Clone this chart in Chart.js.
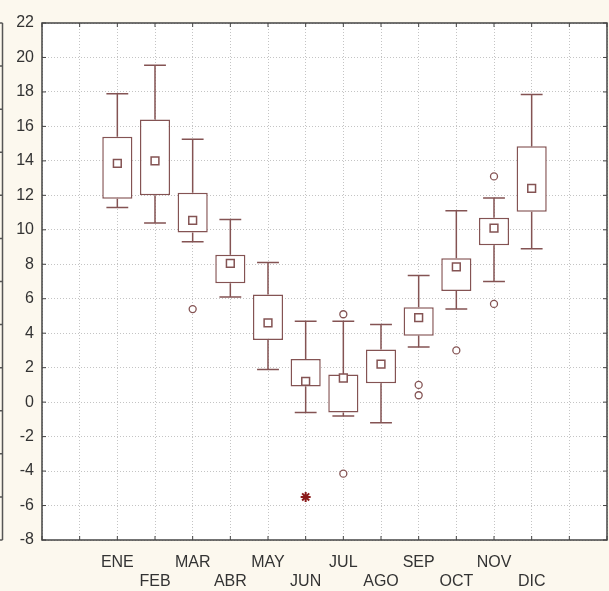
<!DOCTYPE html>
<html>
<head>
<meta charset="utf-8">
<script src="https://cdn.jsdelivr.net/npm/chart.js@4.4.0/dist/chart.umd.min.js"></script>
<style>
  body { margin: 0; background: #fcf8ee; overflow: hidden; }
</style>
</head>
<body>
<canvas id="boxChart" width="609" height="591"></canvas>
<script>
// monthly box plot values
var months = ['ENE', 'FEB', 'MAR', 'ABR', 'MAY', 'JUN', 'JUL', 'AGO', 'SEP', 'OCT', 'NOV', 'DIC'];
var minVals = [11.3, 10.4, 9.3, 6.1, 1.9, -0.6, -0.8, -1.2, 3.2, 5.4, 7.0, 8.9];
var q1Vals = [11.8, 12.0, 9.85, 6.9, 3.6, 0.9, -0.6, 1.1, 3.85, 6.45, 9.1, 11.05];
var medianVals = [13.85, 14.0, 10.55, 8.05, 4.6, 1.2, 1.4, 2.2, 4.9, 7.85, 10.1, 12.4];
var q3Vals = [15.4, 16.4, 12.15, 8.55, 6.25, 2.5, 1.6, 3.05, 5.5, 8.35, 10.7, 14.85];
var maxVals = [17.9, 19.55, 15.25, 10.6, 8.1, 4.7, 4.7, 4.5, 7.35, 11.1, 11.85, 17.85];

// outliers and extremes: month number (1 = ENE) and value
var outlierMonths = [3, 7, 7, 9, 9, 10, 11, 11];
var outlierVals = [5.4, 5.1, -4.15, 1.0, 0.4, 3.0, 13.1, 5.7];
var extremeMonths = [6];
var extremeVals = [-5.5];

var yTicks = { min: -8, max: 22, step: 2 };

var lineCol = '#845353';
var font = { family: "'Liberation Sans', Arial, sans-serif", size: 16 };

var boxes = [];
var medians = [];
for (var i = 0; i < months.length; i++) {
    boxes.push({ x: i + 1, y: [q1Vals[i], q3Vals[i]] });
    medians.push({ x: i + 1, y: medianVals[i] });
}
var outliers = outlierMonths.map(function (m, k) { return { x: m, y: outlierVals[k] }; });
var extremes = extremeMonths.map(function (m, k) { return { x: m, y: extremeVals[k] }; });

// background, whiskers and frame
var boxPlotExtras = {
    id: 'boxPlotExtras',
    beforeDraw: function (chart) {
        var ctx = chart.ctx, a = chart.chartArea;
        ctx.save();
        ctx.fillStyle = '#fcf8ee';
        ctx.fillRect(0, 0, chart.width, chart.height);
        ctx.fillStyle = '#ffffff';
        ctx.fillRect(a.left, a.top, a.right - a.left, a.bottom - a.top);
        // edge of the neighbouring panel
        ctx.strokeStyle = '#555';
        ctx.lineWidth = 1.5;
        ctx.beginPath();
        ctx.moveTo(2.5, a.top);
        ctx.lineTo(2.5, a.bottom);
        for (var t = 0; t <= 12; t++) {
            var ty = a.top + (a.bottom - a.top) * t / 12;
            ctx.moveTo(0, ty);
            ctx.lineTo(2.5, ty);
        }
        ctx.stroke();
        ctx.restore();
    },
    beforeDatasetsDraw: function (chart) {
        var ctx = chart.ctx, xs = chart.scales.x, ys = chart.scales.y;
        var cap = (xs.getPixelForValue(1) - xs.getPixelForValue(0)) * 0.29;
        ctx.save();
        ctx.strokeStyle = lineCol;
        ctx.lineWidth = 1.5;
        ctx.beginPath();
        for (var i = 0; i < months.length; i++) {
            var px = xs.getPixelForValue(i + 1);
            var yMax = ys.getPixelForValue(maxVals[i]);
            var yMin = ys.getPixelForValue(minVals[i]);
            ctx.moveTo(px, ys.getPixelForValue(q3Vals[i]));
            ctx.lineTo(px, yMax);
            ctx.moveTo(px - cap, yMax);
            ctx.lineTo(px + cap, yMax);
            ctx.moveTo(px, ys.getPixelForValue(q1Vals[i]));
            ctx.lineTo(px, yMin);
            ctx.moveTo(px - cap, yMin);
            ctx.lineTo(px + cap, yMin);
        }
        ctx.stroke();
        ctx.restore();
    },
    afterDraw: function (chart) {
        var ctx = chart.ctx, a = chart.chartArea;
        var xs = chart.scales.x, ys = chart.scales.y;
        ctx.save();
        ctx.setLineDash([]);
        ctx.strokeStyle = '#444';
        ctx.lineWidth = 1;
        ctx.beginPath();
        // small inward ticks on all four sides
        xs.ticks.forEach(function (t) {
            var px = xs.getPixelForValue(t.value);
            ctx.moveTo(px, a.bottom);
            ctx.lineTo(px, a.bottom - 4);
            ctx.moveTo(px, a.top);
            ctx.lineTo(px, a.top + 4);
        });
        ys.ticks.forEach(function (t) {
            var py = ys.getPixelForValue(t.value);
            ctx.moveTo(a.left, py);
            ctx.lineTo(a.left + 4, py);
            ctx.moveTo(a.right, py);
            ctx.lineTo(a.right - 4, py);
        });
        ctx.stroke();
        ctx.lineWidth = 1.5;
        ctx.strokeRect(a.left, a.top, a.right - a.left, a.bottom - a.top);
        ctx.restore();
    }
};

new Chart(document.getElementById('boxChart'), {
    type: 'bar',
    data: {
        datasets: [
            {
                label: 'Caja',
                data: boxes,
                order: 5,
                backgroundColor: '#ffffff',
                borderColor: lineCol,
                borderWidth: 1.5,
                borderSkipped: false,
                categoryPercentage: 1.0,
                barPercentage: 0.8
            },
            {
                type: 'scatter',
                label: 'Mediana',
                data: medians,
                order: 1,
                pointStyle: 'rect',
                pointRadius: 5.5,
                backgroundColor: '#ffffff',
                borderColor: lineCol,
                borderWidth: 1.5
            },
            {
                type: 'scatter',
                label: 'Atípicos',
                data: outliers,
                order: 1,
                pointStyle: 'circle',
                pointRadius: 3.5,
                backgroundColor: '#ffffff',
                borderColor: lineCol,
                borderWidth: 1.3
            },
            {
                type: 'scatter',
                label: 'Extremos',
                data: extremes,
                order: 0,
                pointStyle: 'star',
                pointRadius: 5,
                backgroundColor: '#8b1a1a',
                borderColor: '#8b1a1a',
                borderWidth: 2
            }
        ]
    },
    options: {
        responsive: false,
        animation: false,
        layout: { autoPadding: false, padding: { top: 23, right: 2, left: 0, bottom: 0 } },
        plugins: {
            legend: { display: false },
            tooltip: { enabled: false }
        },
        scales: {
            x: {
                type: 'linear',
                min: -1,
                max: 14,
                offset: false,
                afterFit: function (scale) {
                    scale.height = 51;
                    scale.paddingLeft = 0;
                    scale.paddingRight = 0;
                },
                grid: { offset: false, color: '#c4c4c4', lineWidth: 1, drawTicks: false },
                border: { display: false, dash: [1, 2] },
                ticks: {
                    stepSize: 1,
                    autoSkip: false,
                    maxRotation: 0,
                    maxTicksLimit: 30,
                    padding: 13,
                    color: '#333',
                    font: font,
                    callback: function (value) {
                        if (value < 1 || value > 12) return '';
                        var name = months[value - 1];
                        return value % 2 === 1 ? [name] : ['', name];
                    }
                }
            },
            y: {
                min: yTicks.min,
                max: yTicks.max,
                afterFit: function (scale) { scale.width = 42; },
                grid: { color: '#c4c4c4', lineWidth: 1, drawTicks: false },
                border: { display: false, dash: [1, 2] },
                ticks: {
                    stepSize: yTicks.step,
                    padding: 8,
                    color: '#333',
                    font: font
                }
            }
        }
    },
    plugins: [boxPlotExtras]
});
</script>
</body>
</html>
